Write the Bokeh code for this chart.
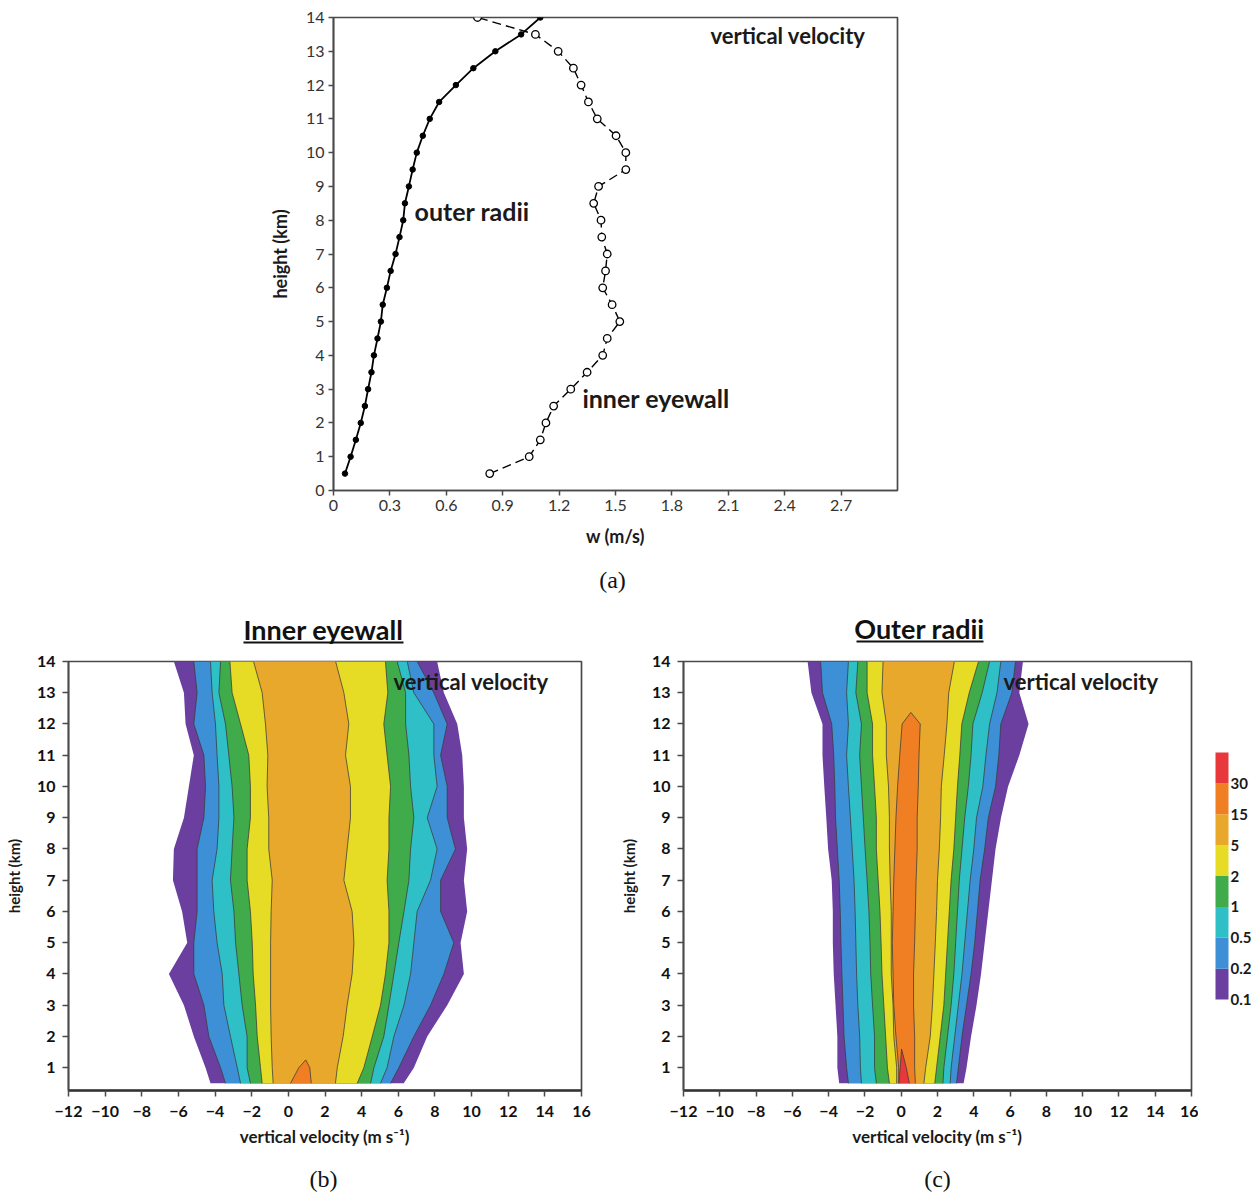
from bokeh.plotting import figure
from bokeh.layouts import row, column
from bokeh.models import Range1d, FixedTicker, Label
from bokeh.embed import file_html
from bokeh.resources import INLINE
from bokeh.core.properties import value

# ---------------- data : panel (a) ----------------
heights_a = [0.5, 1.0, 1.5, 2.0, 2.5, 3.0, 3.5, 4.0, 4.5, 5.0, 5.5, 6.0, 6.5, 7.0,
             7.5, 8.0, 8.5, 9.0, 9.5, 10.0, 10.5, 11.0, 11.5, 12.0, 12.5, 13.0, 13.5, 14.0]
outer_w = [0.061, 0.091, 0.119, 0.145, 0.167, 0.184, 0.202, 0.215, 0.234, 0.252, 0.262, 0.284,
           0.304, 0.330, 0.351, 0.371, 0.380, 0.401, 0.421, 0.443, 0.475, 0.512, 0.562, 0.651,
           0.744, 0.861, 0.998, 1.100]
inner_w = [0.831, 1.041, 1.100, 1.130, 1.171, 1.262, 1.349, 1.432, 1.456, 1.523, 1.482, 1.432,
           1.447, 1.456, 1.427, 1.423, 1.384, 1.410, 1.555, 1.555, 1.503, 1.403, 1.356, 1.317,
           1.276, 1.195, 1.074, 0.766]
xticks_a = [0, 0.3, 0.6, 0.9, 1.2, 1.5, 1.8, 2.1, 2.4, 2.7]
xtick_labels_a = ["0", "0.3", "0.6", "0.9", "1.2", "1.5", "1.8", "2.1", "2.4", "2.7"]
yticks_a = list(range(0, 15))

# ---------------- data : CFAD panels (b) and (c) ----------------
level_labels = ["0.1", "0.2", "0.5", "1", "2", "5", "15", "30"]
level_colors = ["#6b3fa0", "#3d8fd6", "#2fbfc6", "#3fab4a", "#e6dc26", "#e8a82b", "#f07f24", "#e8383c"]

H = [0.5, 1, 2, 3, 4, 5, 6, 7, 8, 9, 10, 11, 12, 13, 14]

# panel (b) inner eyewall: left / right edge of each frequency contour (%)
b_left_01 = [-4.25, -4.52, -5.16, -5.70, -6.52, -5.52, -5.80, -6.30, -6.25, -5.70, -5.43, -5.16, -5.61, -5.70, -6.25]
b_left_02 = [-3.43, -3.70, -4.34, -4.61, -5.16, -5.16, -4.98, -4.98, -4.98, -4.61, -4.52, -4.61, -5.16, -4.98, -5.16]
b_left_05 = [-2.61, -2.79, -3.16, -3.52, -3.61, -3.89, -4.07, -4.16, -3.89, -3.79, -3.79, -3.89, -3.98, -4.16, -4.25]
b_left_1 = [-2.07, -2.25, -2.25, -2.52, -2.70, -2.88, -2.97, -3.16, -3.07, -2.97, -3.07, -3.25, -3.43, -3.79, -3.70]
b_left_2 = [-1.43, -1.52, -1.70, -1.79, -1.92, -1.97, -2.07, -2.25, -2.25, -2.07, -2.07, -2.16, -2.61, -3.07, -3.19]
b_left_5 = [-0.83, -0.88, -0.94, -0.97, -0.97, -0.97, -0.94, -0.88, -1.07, -1.07, -1.16, -1.12, -1.25, -1.43, -1.90]
b_right_5 = [2.57, 2.67, 2.99, 3.21, 3.48, 3.58, 3.48, 3.03, 3.21, 3.39, 3.39, 3.12, 3.30, 3.03, 2.58]
b_right_2 = [3.76, 4.12, 4.58, 5.03, 5.30, 5.49, 5.49, 5.39, 5.49, 5.49, 5.58, 5.39, 5.21, 5.43, 5.30]
b_right_1 = [4.49, 4.67, 5.21, 5.49, 5.76, 6.03, 6.31, 6.58, 6.67, 6.85, 6.67, 6.58, 6.40, 6.40, 5.94]
b_right_05 = [5.03, 5.39, 5.76, 6.31, 6.67, 6.85, 7.03, 7.76, 8.12, 7.58, 8.12, 7.94, 7.94, 6.85, 6.49]
b_right_02 = [5.58, 6.03, 6.85, 7.76, 8.49, 9.03, 8.31, 8.31, 9.12, 8.67, 8.67, 8.31, 8.67, 7.94, 7.03]
b_right_01 = [6.30, 6.85, 7.58, 8.67, 9.58, 9.40, 9.76, 9.58, 9.76, 9.58, 9.58, 9.49, 9.22, 8.49, 8.12]
b_h_15 = [0.5, 1.0, 1.25]
b_left_15 = [0.12, 0.57, 0.95]
b_right_15 = [1.25, 1.17, 0.95]

# panel (c) outer radii
c_left_01 = [-3.42, -3.52, -3.52, -3.62, -3.72, -3.77, -3.77, -3.83, -4.03, -4.13, -4.24, -4.34, -4.34, -4.95, -5.16]
c_left_02 = [-2.91, -3.01, -3.15, -3.21, -3.27, -3.32, -3.36, -3.42, -3.52, -3.62, -3.66, -3.72, -3.83, -4.34, -4.44]
c_left_05 = [-2.19, -2.25, -2.29, -2.39, -2.46, -2.50, -2.54, -2.60, -2.70, -2.80, -2.91, -3.01, -2.91, -3.01, -2.91]
c_left_1 = [-1.37, -1.47, -1.47, -1.58, -1.68, -1.72, -1.78, -1.88, -1.99, -2.09, -2.19, -2.29, -2.19, -2.50, -2.39]
c_left_2 = [-0.65, -0.76, -0.86, -0.96, -1.06, -1.11, -1.17, -1.27, -1.37, -1.37, -1.47, -1.58, -1.58, -1.88, -1.88]
c_left_5 = [-0.25, -0.25, -0.41, -0.45, -0.55, -0.55, -0.55, -0.61, -0.65, -0.65, -0.70, -0.82, -0.82, -1.06, -1.00]
c_right_5 = [1.25, 1.35, 1.60, 1.72, 1.80, 1.88, 1.95, 2.00, 2.10, 2.17, 2.21, 2.37, 2.52, 2.62, 2.93]
c_right_2 = [1.85, 1.95, 2.15, 2.35, 2.45, 2.55, 2.65, 2.75, 2.90, 3.00, 3.10, 3.23, 3.34, 3.75, 4.26]
c_right_1 = [2.30, 2.35, 2.55, 2.75, 2.90, 3.00, 3.10, 3.20, 3.35, 3.50, 3.70, 3.85, 3.95, 4.46, 4.87]
c_right_05 = [2.70, 2.75, 2.95, 3.15, 3.35, 3.50, 3.65, 3.80, 4.00, 4.15, 4.50, 4.67, 4.87, 5.28, 5.49]
c_right_02 = [3.05, 3.15, 3.35, 3.60, 3.85, 4.05, 4.20, 4.35, 4.60, 4.80, 5.20, 5.38, 5.49, 6.10, 6.30]
c_right_01 = [3.44, 3.60, 3.85, 4.15, 4.40, 4.60, 4.80, 5.00, 5.20, 5.50, 5.89, 6.51, 7.02, 6.51, 6.71]
c_h_15 = [0.5, 1, 2, 3, 4, 5, 6, 7, 8, 9, 10, 11, 12, 12.37]
c_left_15 = [-0.14, -0.14, -0.29, -0.41, -0.45, -0.49, -0.45, -0.41, -0.35, -0.29, -0.20, -0.08, 0.05, 0.53]
c_right_15 = [0.78, 0.74, 0.74, 0.68, 0.68, 0.74, 0.78, 0.82, 0.88, 0.88, 0.94, 0.98, 1.05, 0.53]
c_h_30 = [0.5, 1.0, 1.6]
c_left_30 = [-0.12, -0.06, 0.02]
c_right_30 = [0.45, 0.28, 0.02]

xticks_bc = list(range(-12, 17, 2))
yticks_bc = list(range(1, 15))
cb_index = [0, 1, 2, 3, 4, 5, 6, 7]

panel_titles = ["Inner eyewall", "Outer radii"]
panel_letters = ["(a)", "(b)", "(c)"]

BOLD = "Lato"
SERIF = "Liberation Serif"
AXC = "#4a4a4a"
W = 1253


def style_axes(p, tick_font_size, tick_bold, label_size):
    p.grid.visible = False
    p.outline_line_color = AXC
    p.outline_line_width = 1.7
    for ax in (p.xaxis, p.yaxis):
        ax.axis_line_color = AXC
        ax.axis_line_width = 1.7
        ax.major_tick_line_color = AXC
        ax.major_tick_line_width = 1.5
        ax.major_tick_in = 0
        ax.major_tick_out = 5
        ax.minor_tick_line_color = None
        ax.major_label_text_font = "Lato"
        ax.major_label_text_font_size = tick_font_size
        ax.major_label_text_font_style = "bold" if tick_bold else "normal"
        ax.major_label_text_color = "#111111" if tick_bold else "#333333"
        ax.axis_label_text_font = BOLD
        ax.axis_label_text_font_style = "bold"
        ax.axis_label_text_font_size = label_size
        ax.axis_label_text_color = "#1a1a1a"


def strip(height):
    s = figure(width=W, height=height, x_range=Range1d(0, W), y_range=Range1d(height, 0),
               output_backend="svg", toolbar_location=None,
               x_axis_location=None, y_axis_location=None,
               min_border_left=0, min_border_right=0, min_border_top=0, min_border_bottom=0)
    s.grid.visible = False
    s.outline_line_color = None
    return s


# ---------------- panel (a) ----------------
pa = figure(width=W, height=560, x_range=Range1d(0, 3), y_range=Range1d(0, 14),
            output_backend="svg", toolbar_location=None,
            min_border_left=333, min_border_right=356, min_border_top=17, min_border_bottom=70)
style_axes(pa, "16px", False, "18px")
pa.xaxis.ticker = FixedTicker(ticks=xticks_a)
pa.xaxis.major_label_overrides = {t: s for t, s in zip(xticks_a, xtick_labels_a)}
pa.yaxis.ticker = FixedTicker(ticks=yticks_a)
pa.xaxis.axis_label = "w (m/s)"
pa.yaxis.axis_label = "height (km)"
pa.xaxis.major_label_standoff = 4
pa.yaxis.major_label_standoff = 4
pa.xaxis.axis_label_standoff = 11
pa.yaxis.axis_label_standoff = 12

pa.line(outer_w, heights_a, line_color="black", line_width=1.8)
pa.scatter(outer_w, heights_a, size=5.5, fill_color="black", line_color="black")
pa.line(inner_w, heights_a, line_color="black", line_width=1.4, line_dash="9 5")
pa.scatter(inner_w, heights_a, size=7.5, fill_color="white", line_color="black", line_width=1.3)

for x, y, t, fs in [(2.005, 13.47, "vertical velocity", "22px"), (0.431, 8.26, "outer radii", "25px"),
                    (1.324, 2.75, "inner eyewall", "25px")]:
    pa.add_layout(Label(x=x, y=y, text=t, text_font=BOLD, text_font_style="bold",
                        text_font_size=fs, text_baseline="middle", text_color="#1a1a1a"))

# ---------------- strip with (a) and panel titles ----------------
s1 = strip(90)
s1.text(x=[612], y=[19], text=[panel_letters[0]], text_font=value(SERIF), text_font_size="24px",
        text_align="center", text_baseline="middle", text_color="#111111")
s1.text(x=[323, 919], y=[69, 68], text=panel_titles, text_font=value(BOLD), text_font_style="bold",
        text_font_size="27px", text_align="center", text_baseline="middle", text_color="#111111")
s1.segment(x0=[243, 856], y0=[82, 81], x1=[403, 983], y1=[82, 81], line_color="#111111", line_width=2.2)


# ---------------- CFAD panels ----------------
def cfad(width, left_b, right_b, bands, vx):
    p = figure(width=width, height=508, x_range=Range1d(-12, 16), y_range=Range1d(0.27, 14),
               output_backend="svg", toolbar_location=None,
               min_border_left=left_b, min_border_right=right_b,
               min_border_top=11, min_border_bottom=68)
    style_axes(p, "16px", True, "16px")
    p.xaxis.ticker = FixedTicker(ticks=xticks_bc)
    p.yaxis.ticker = FixedTicker(ticks=yticks_bc)
    p.xaxis.axis_label = "vertical velocity (m s\u207b\u00b9)"
    p.yaxis.axis_label = "height (km)"
    p.xaxis.axis_label_text_font_size = "17px"
    p.yaxis.axis_label_text_font_size = "15px"
    p.xaxis.major_tick_out = 6
    p.yaxis.major_tick_out = 6
    p.xaxis.major_label_standoff = 9
    p.yaxis.major_label_standoff = 7
    p.xaxis.axis_label_standoff = 6
    p.yaxis.axis_label_standoff = 11
    p.xaxis.axis_line_width = 2.3
    p.xaxis.axis_line_color = "#333333"
    for i, (hh, lft, rgt) in enumerate(bands):
        xs = list(lft) + list(rgt)[::-1]
        ys = list(hh) + list(hh)[::-1]
        p.patch(xs, ys, fill_color=level_colors[i], line_color=None)
        if i > 0:
            p.multi_line([list(lft), list(rgt)], [list(hh), list(hh)],
                         line_color="#3b3b3b", line_width=0.9, line_alpha=0.85)
    p.add_layout(Label(x=vx, y=13.36, text="vertical velocity", text_font=BOLD,
                       text_font_style="bold", text_font_size="22px", text_baseline="middle",
                       text_color="#1a1a1a"))
    return p


bands_b = [(H, b_left_01, b_right_01), (H, b_left_02, b_right_02), (H, b_left_05, b_right_05),
           (H, b_left_1, b_right_1), (H, b_left_2, b_right_2), (H, b_left_5, b_right_5),
           (b_h_15, b_left_15, b_right_15)]
bands_c = [(H, c_left_01, c_right_01), (H, c_left_02, c_right_02), (H, c_left_05, c_right_05),
           (H, c_left_1, c_right_1), (H, c_left_2, c_right_2), (H, c_left_5, c_right_5),
           (c_h_15, c_left_15, c_right_15), (c_h_30, c_left_30, c_right_30)]

pb = cfad(608, 68, 27, bands_b, 5.74)
pc = cfad(590, 75, 7, bands_c, 5.64)

# ---------------- colour bar ----------------
pcb = figure(width=55, height=508, x_range=Range1d(-17 / 13, 38 / 13),
             y_range=Range1d(-159 / 30.875, 8 + 102 / 30.875),
             output_backend="svg", toolbar_location=None,
             x_axis_location=None, y_axis_location=None,
             min_border_left=0, min_border_right=0, min_border_top=0, min_border_bottom=0)
pcb.grid.visible = False
pcb.outline_line_color = None
pcb.quad(left=0, right=1, bottom=cb_index, top=[i + 1 for i in cb_index],
         fill_color=level_colors, line_color=None)
pcb.text(x=[1.15] * len(cb_index), y=cb_index, text=level_labels, text_font=value("Lato"),
         text_font_style="bold", text_font_size="15px", text_baseline="middle",
         text_color="#1a1a1a")

# ---------------- strip with (b), (c) ----------------
s2 = strip(34)
s2.text(x=[323, 937], y=[20, 20], text=panel_letters[1:], text_font=value(SERIF), text_font_size="24px",
        text_align="center", text_baseline="middle", text_color="#111111")

layout = column(pa, row(s1), row(pb, pc, column(pcb)), row(s2))
open("out.html", "w").write(file_html(layout, INLINE))
